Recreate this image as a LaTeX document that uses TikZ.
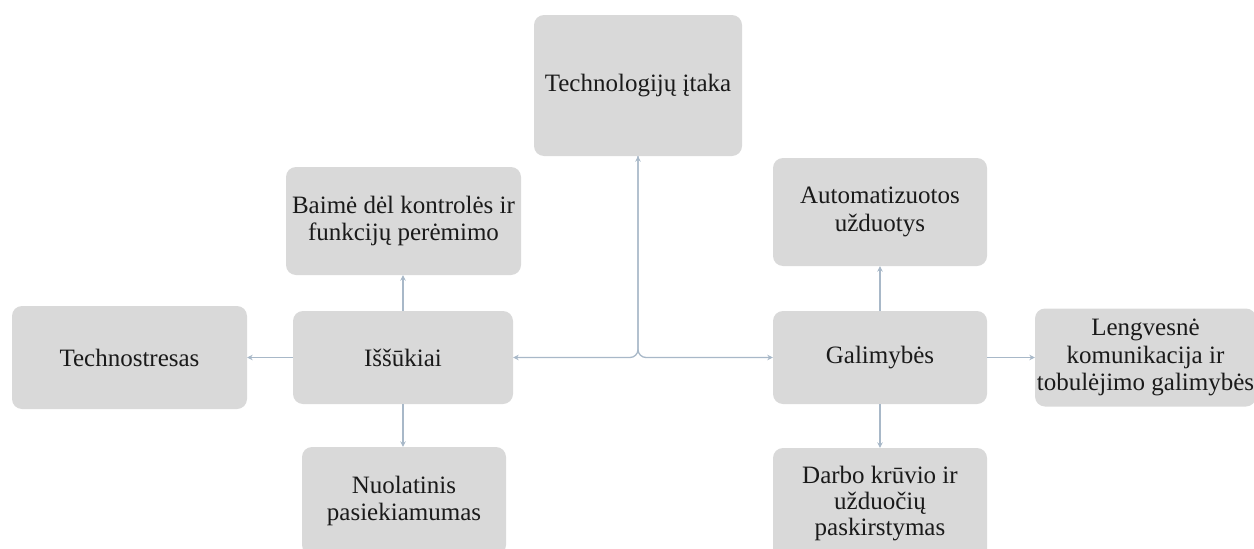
\documentclass[tikz,border=0pt]{standalone}
\usepackage{fontspec}
\setmainfont{Liberation Serif}
\usetikzlibrary{arrows.meta}
\definecolor{boxfill}{HTML}{D9D9D9}
\definecolor{linecol}{HTML}{A8B8C8}
\definecolor{txt}{HTML}{1A1A1A}
\begin{document}
\begin{tikzpicture}[x=1pt,y=-1pt,
  box/.style={rectangle, rounded corners=10pt, fill=boxfill, draw=none, align=center,
    text=txt, font=\fontsize{25}{27.5}\selectfont, inner sep=0pt},
  conn/.style={draw=linecol, line width=1.3pt, -{Stealth[length=5.5pt,width=5.5pt]}}]
\useasboundingbox (0,0) rectangle (1254,549);
\node[box, minimum width=208pt, minimum height=141pt] (tech) at (638,85.5) {Technologijų įtaka};
\node[box, minimum width=235pt, minimum height=108pt] (baime) at (403.5,221) {Baimė dėl kontrolės ir\\funkcijų perėmimo};
\node[box, minimum width=235pt, minimum height=103pt] (stress) at (129.5,357.5) {Technostresas};
\node[box, minimum width=220pt, minimum height=93pt] (iss) at (403,357.5) {Iššūkiai};
\node[box, minimum width=204pt, minimum height=108pt] (nuol) at (404,501) {Nuolatinis\\pasiekiamumas};
\node[box, minimum width=214pt, minimum height=108pt] (auto) at (880,212) {Automatizuotos\\užduotys};
\node[box, minimum width=214pt, minimum height=93pt] (gal) at (880,357.5) {Galimybės};
\node[box, minimum width=221pt, minimum height=98pt] (leng) at (1145.5,357.5) {Lengvesnė\\komunikacija ir\\tobulėjimo galimybės};
\node[box, minimum width=214pt, minimum height=112pt, font=\fontsize{25}{26}\selectfont] (darbo) at (880,504) {Darbo krūvio ir\\užduočių\\paskirstymas};
\draw[conn, {Stealth[length=5.5pt,width=5.5pt]}-{Stealth[length=5.5pt,width=5.5pt]}, rounded corners=8pt] (tech.south) |- (iss.east);
\draw[conn, rounded corners=8pt] (tech.south) |- (gal.west);
\draw[conn] (iss.north) -- (iss.north |- baime.south);
\draw[conn] (iss.west) -- (iss.west -| stress.east);
\draw[conn] (iss.south) -- (iss.south |- nuol.north);
\draw[conn] (gal.north) -- (gal.north |- auto.south);
\draw[conn] (gal.east) -- (gal.east -| leng.west);
\draw[conn] (gal.south) -- (gal.south |- darbo.north);
\end{tikzpicture}
\end{document}
